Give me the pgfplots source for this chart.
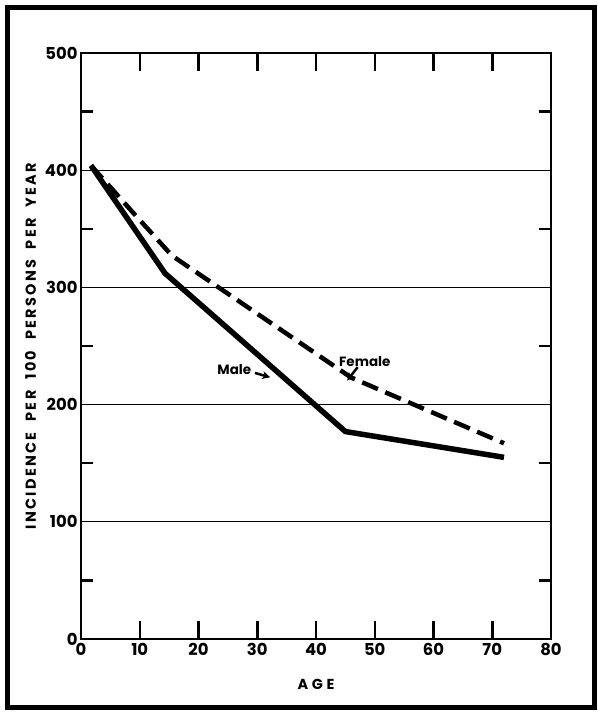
\documentclass[border=0pt]{standalone}
\usepackage{pgfplots}
\pgfplotsset{compat=1.18}
\usetikzlibrary{arrows.meta}
\usepackage{fontspec}
\setmainfont{Poppins}
\newcommand{\ws}{\hspace{0.75em}}
\begin{document}
\begin{tikzpicture}[x=1bp,y=1bp]
\useasboundingbox (0,0) rectangle (598,712);
\draw[line width=5bp] (7.5,4.5) rectangle (594.5,704.5);
\begin{axis}[
  at={(81bp,73bp)}, anchor=origin,
  scale only axis, width=470bp, height=586bp,
  xmin=0, xmax=80, ymin=0, ymax=500,
  axis line style={line width=2.5bp, black},
  xtick={0,10,...,80},
  ytick={0,100,...,500},
  minor ytick={50,150,...,450},
  tick align=inside,
  major tick length=18bp, minor tick length=12bp,
  tick style={line width=2.5bp, black},
  major y tick style={draw=none},
  ymajorgrids, grid style={line width=1.2bp, black},
  tick label style={font=\bfseries\fontsize{16.5}{16.5}\selectfont},
  /pgf/number format/assume math mode=true,
  xticklabel style={yshift=-1bp},
  yticklabel style={xshift=0bp},
  xlabel={\addfontfeature{LetterSpace=25}AGE},
  ylabel={\addfontfeature{LetterSpace=16}INCIDENCE\ws PER\ws 100\ws PERSONS\ws PER\ws YEAR},
  label style={font=\bfseries\fontsize{14.5}{14.5}\selectfont},
  xlabel style={yshift=-16bp},
  ylabel style={yshift=2bp},
  clip=false,
]
\addplot[black, line width=5.5bp, line join=round] coordinates {
  (1.7,404) (14.3,312) (45,177) (72,155)
};
\addplot[black, line width=4.5bp, dash pattern=on 17bp off 8bp] coordinates {
  (1.7,404) (9,363) (15.5,327) (46,223) (72,167)
};
\node[font=\bfseries\fontsize{13.5}{13.5}\selectfont] at (axis cs:26.1,229.5) {Male};
\draw[-{Stealth[length=8bp,width=8bp]}, line width=2.5bp] (axis cs:29.6,227) -- (axis cs:32.2,223.3);
\node[font=\bfseries\fontsize{13.5}{13.5}\selectfont] at (axis cs:48.3,236.5) {Female};
\draw[-{Stealth[length=8bp,width=8bp]}, line width=2.5bp] (axis cs:47.1,232) -- (axis cs:45.3,220.5);
\end{axis}
\end{tikzpicture}
\end{document}
